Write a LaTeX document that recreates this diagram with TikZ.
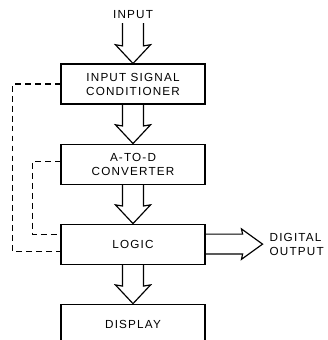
\documentclass[tikz,border=0pt]{standalone}
\usepackage{fontspec}
\newfontfamily\blockfont[LetterSpace=10]{Liberation Sans}
\usetikzlibrary{positioning,calc}

\newcommand{\fatdown}[2]{%
  \draw[fat] let \p1=(#1), \p2=(#2) in
    (\x2-9pt,\y1) -- (\x2-9pt,\y2+15pt) -- (\x2-15pt,\y2+16pt) -- (\x2,\y2)
    -- (\x2+15pt,\y2+16pt) -- (\x2+9pt,\y2+15pt) -- (\x2+9pt,\y1);}
\newcommand{\fatright}[2]{%
  \draw[fat] let \p1=(#1), \p2=(#2) in
    (\x1,\y2+8.5pt) -- (\x2-17pt,\y2+8.5pt) -- (\x2-18pt,\y2+13pt) -- (\x2,\y2)
    -- (\x2-18pt,\y2-13pt) -- (\x2-17pt,\y2-8.5pt) -- (\x1,\y2-8.5pt);}

\begin{document}
\begin{tikzpicture}[x=0.03cm,y=-0.03cm,node distance=1.17cm,
    box/.style={draw,line width=0.9pt,minimum width=4.32cm,minimum height=1.2cm,
      align=center,font=\blockfont\fontsize{10}{12}\selectfont},
    lbl/.style={font=\blockfont\fontsize{10}{12}\selectfont},
    fat/.style={line width=1pt,line join=miter},
    fb/.style={line width=0.9pt,dash pattern=on 5pt off 3.5pt}]
   \useasboundingbox (0,0) rectangle (327,340);
   \node[box] (cond) at (133,84) {INPUT SIGNAL\\CONDITIONER};
   \node[box] (adc) [below=of cond] {A-TO-D\\CONVERTER};
   \node[box] (logic) [below=of adc] {LOGIC};
   \node[box] (disp) [below=of logic] {DISPLAY};
   \node[lbl] (in) at (133,15) {INPUT};
   \coordinate (out) at ($(logic.east)+(57,0)$);
   \node[lbl,align=left,anchor=west] (dig) at ($(out)+(3,0)$) {DIGITAL\\OUTPUT};
   \fatdown{in.south}{cond.north}
   \fatdown{cond.south}{adc.north}
   \fatdown{adc.south}{logic.north}
   \fatdown{logic.south}{disp.north}
   \fatright{logic.east}{out}
   \draw[fb] (cond.west) -- ++(-48,0) |- ($(logic.west)+(0,7)$);
   \draw[fb] ($(adc.west)+(0,-3)$) -- ++(-28,0) |- ($(logic.west)+(0,-10)$);
\end{tikzpicture}
\end{document}
